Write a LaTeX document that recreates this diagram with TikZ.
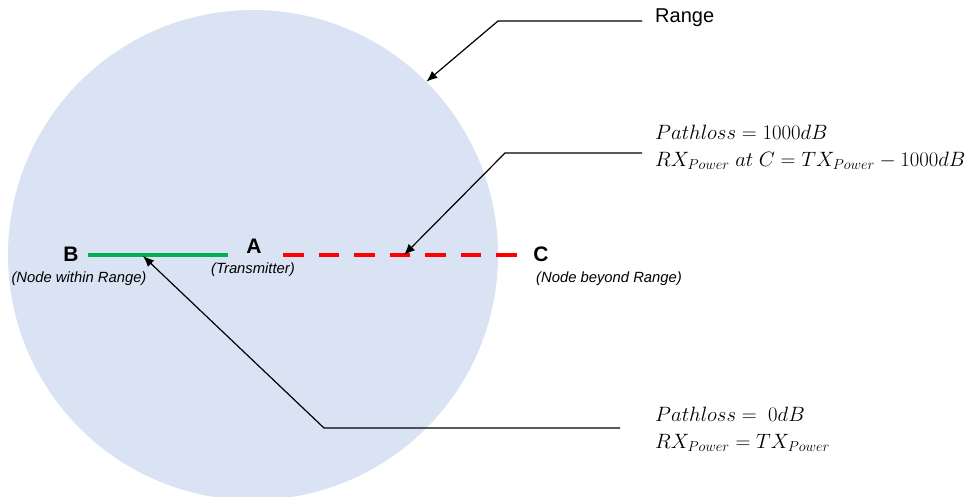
\documentclass[tikz,border=0pt]{standalone}
\usepackage{fontspec}
\setmainfont{Liberation Sans}
\usetikzlibrary{arrows.meta}
\definecolor{rangeblue}{HTML}{DAE3F3}
\definecolor{okgreen}{HTML}{00B050}
\definecolor{badred}{HTML}{FF0000}
\tikzset{
  letter/.style={font=\fontsize{21}{24}\selectfont\bfseries, inner sep=0pt},
  sublabel/.style={font=\fontsize{14.8}{17}\selectfont\itshape, inner sep=0pt},
  callout/.style={draw=black, line width=1.2pt, -{Latex[length=11pt,width=9pt]}},
  mathnote/.style={font=\fontsize{20}{27}\selectfont, align=left, anchor=west, inner sep=0pt},
  linkline/.style={line width=4pt, line cap=butt}
}
\begin{document}
\begin{tikzpicture}[x=1pt,y=-1pt]
\useasboundingbox (0,0) rectangle (965,497);
\clip (0,0) rectangle (965,497);
\node[circle, fill=rangeblue, minimum size=490pt, inner sep=0pt] (range) at (253,255) {};

\node[letter] (B) at (71,254) {B};
\node[sublabel] (Bsub) at (79,279) {(Node within Range)};
\node[letter] (A) at (254,246) {A};
\node[sublabel] (Asub) at (253,270) {(Transmitter)};
\node[letter] (C) at (541,254) {C};
\node[sublabel] (Csub) at (609,279) {(Node beyond Range)};

\coordinate (gB) at (88,255);
\coordinate (gA) at (228,255);
\coordinate (rA) at (283,255);
\coordinate (rC) at (518,255);
\draw[linkline, okgreen] (gB) -- (gA);
\draw[linkline, badred, dash pattern=on 20.5pt off 15pt] (rA) -- (rC);

\node[font=\fontsize{20}{24}\selectfont, anchor=west, inner sep=0pt] (rangetxt) at (655,18) {Range};
\node[mathnote] (note1) at (655,147) {$Pathloss = 1000dB$\\$RX_{Power}\ at\ C = TX_{Power} - 1000dB$};
\node[mathnote] (note2) at (655,429) {$Pathloss =\ 0dB$\\$RX_{Power} = TX_{Power}$};

\coordinate (tip1) at (404,255);
\coordinate (tip2) at (143,256);
\draw[callout] (642,21) -- (498,21) -- (range.45);
\draw[callout] (642,153) -- (505,153) -- (tip1);
\draw[callout] (620,428) -- (324,428) -- (tip2);
\end{tikzpicture}
\end{document}
